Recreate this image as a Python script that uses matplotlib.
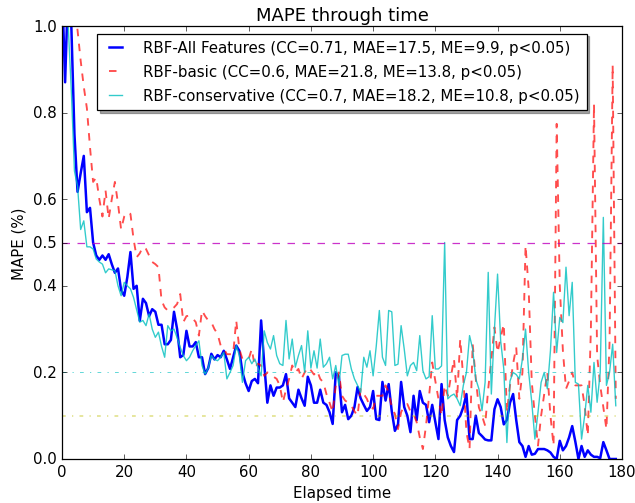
import numpy as np
import matplotlib
matplotlib.use("Agg")
import matplotlib.pyplot as plt

# MAPE per elapsed-time step
mape_all = [1.1, 0.87, 1.1, 1.0, 0.75, 0.617, 0.66, 0.70, 0.57, 0.58,
            0.50, 0.47, 0.46, 0.47, 0.46, 0.473, 0.45, 0.43, 0.44, 0.39,
            0.377, 0.42, 0.478, 0.393, 0.40, 0.319, 0.37, 0.36, 0.33, 0.346,
            0.34, 0.31, 0.31, 0.265, 0.265, 0.275, 0.34, 0.30, 0.235, 0.24,
            0.296, 0.26, 0.26, 0.27, 0.235, 0.235, 0.196, 0.21, 0.243, 0.23,
            0.24, 0.235, 0.25, 0.23, 0.208, 0.235, 0.262, 0.25, 0.20, 0.175,
            0.157, 0.18, 0.185, 0.175, 0.32, 0.22, 0.13, 0.17, 0.146, 0.165,
            0.165, 0.17, 0.196, 0.14, 0.13, 0.12, 0.16, 0.14, 0.123, 0.19,
            0.17, 0.13, 0.13, 0.16, 0.13, 0.125, 0.108, 0.081, 0.2, 0.19,
            0.108, 0.125, 0.092, 0.10, 0.12, 0.166, 0.14, 0.125, 0.111, 0.12,
            0.157, 0.092, 0.09, 0.178, 0.135, 0.173, 0.11, 0.065, 0.08, 0.178,
            0.12, 0.1, 0.062, 0.146, 0.09, 0.157, 0.13, 0.125, 0.085, 0.125,
            0.085, 0.046, 0.173, 0.09, 0.05, 0.03, 0.016, 0.09, 0.10, 0.12,
            0.15, 0.046, 0.046, 0.1, 0.06, 0.053, 0.045, 0.043, 0.043, 0.115,
            0.138, 0.12, 0.08, 0.09, 0.13, 0.15, 0.09, 0.039, 0.03, 0.005,
            0.03, 0.01, 0.012, 0.023, 0.023, 0.023, 0.02, 0.015, 0.005, 0.0,
            0.042, 0.02, 0.03, 0.05, 0.076, 0.04, 0.0, 0.03, 0.005, 0.02,
            0.01, 0.005, 0.005, 0.002, 0.039, 0.02, 0.0, 0.0, 0.0]

mape_basic = [0.99, 1.2, 1.2, 1.1, 1.05, 0.99, 0.92, 0.86, 0.81, 0.72,
              0.64, 0.65, 0.60, 0.56, 0.62, 0.555, 0.60, 0.64, 0.59, 0.53,
              0.56, 0.57, 0.566, 0.508, 0.466, 0.475, 0.49, 0.485, 0.47, 0.455,
              0.45, 0.443, 0.366, 0.35, 0.343, 0.345, 0.35, 0.358, 0.381, 0.316,
              0.33, 0.331, 0.325, 0.316, 0.285, 0.343, 0.33, 0.32, 0.316, 0.30,
              0.289, 0.262, 0.255, 0.242, 0.242, 0.242, 0.32, 0.254, 0.231, 0.231,
              0.231, 0.254, 0.212, 0.22, 0.216, 0.192, 0.20, 0.196, 0.19, 0.185,
              0.17, 0.131, 0.16, 0.185, 0.216, 0.20, 0.208, 0.185, 0.20, 0.212,
              0.205, 0.195, 0.204, 0.185, 0.177, 0.15, 0.13, 0.108, 0.17, 0.2,
              0.146, 0.135, 0.13, 0.123, 0.11, 0.1, 0.162, 0.15, 0.139, 0.12,
              0.116, 0.146, 0.146, 0.146, 0.17, 0.154, 0.12, 0.104, 0.069, 0.108,
              0.123, 0.127, 0.11, 0.104, 0.085, 0.05, 0.023, 0.077, 0.146, 0.223,
              0.18, 0.139, 0.1, 0.17, 0.146, 0.19, 0.231, 0.139, 0.277, 0.185,
              0.062, 0.023, 0.266, 0.185, 0.119, 0.1, 0.077, 0.162, 0.23, 0.304,
              0.246, 0.28, 0.312, 0.108, 0.17, 0.22, 0.258, 0.139, 0.2, 0.493,
              0.393, 0.177, 0.1, 0.031, 0.1, 0.15, 0.2, 0.10, 0.031, 0.774,
              0.40, 0.25, 0.162, 0.18, 0.2, 0.17, 0.17, 0.17, 0.123, 0.054,
              0.3, 0.82, 0.239, 0.17, 0.12, 0.069, 0.27, 0.91, 0.139]

mape_cons = [1.2, 1.1, 1.0, 0.85, 0.665, 0.63, 0.53, 0.55, 0.49, 0.49,
             0.485, 0.462, 0.455, 0.45, 0.43, 0.439, 0.437, 0.435, 0.40, 0.377,
             0.408, 0.40, 0.393, 0.373, 0.345, 0.316, 0.32, 0.308, 0.335, 0.30,
             0.281, 0.293, 0.26, 0.235, 0.308, 0.296, 0.30, 0.28, 0.258, 0.239,
             0.227, 0.235, 0.25, 0.262, 0.273, 0.216, 0.196, 0.21, 0.239, 0.23,
             0.227, 0.235, 0.246, 0.185, 0.20, 0.216, 0.262, 0.239, 0.177, 0.227,
             0.235, 0.22, 0.231, 0.21, 0.192, 0.296, 0.269, 0.254, 0.285, 0.239,
             0.22, 0.216, 0.32, 0.231, 0.277, 0.212, 0.239, 0.262, 0.20, 0.296,
             0.21, 0.25, 0.21, 0.277, 0.212, 0.22, 0.235, 0.185, 0.216, 0.17,
             0.239, 0.242, 0.242, 0.208, 0.185, 0.17, 0.154, 0.235, 0.212, 0.25,
             0.192, 0.26, 0.343, 0.235, 0.216, 0.343, 0.34, 0.216, 0.219, 0.308,
             0.254, 0.192, 0.216, 0.223, 0.204, 0.285, 0.204, 0.185, 0.19, 0.331,
             0.208, 0.208, 0.215, 0.50, 0.139, 0.146, 0.15, 0.139, 0.123, 0.17,
             0.20, 0.285, 0.254, 0.185, 0.162, 0.112, 0.177, 0.431, 0.15, 0.30,
             0.427, 0.273, 0.208, 0.038, 0.18, 0.20, 0.195, 0.185, 0.231, 0.30,
             0.20, 0.131, 0.046, 0.108, 0.177, 0.20, 0.162, 0.25, 0.385, 0.246,
             0.327, 0.315, 0.443, 0.331, 0.408, 0.177, 0.173, 0.046, 0.10, 0.17,
             0.108, 0.223, 0.131, 0.20, 0.558, 0.17, 0.20, 0.265, 0.123]

labels = ["RBF-All Features (CC=0.71, MAE=17.5, ME=9.9, p<0.05)",
          "RBF-basic (CC=0.6, MAE=21.8, ME=13.8, p<0.05)",
          "RBF-conservative (CC=0.7, MAE=18.2, ME=10.8, p<0.05)"]
yticks = [0.0, 0.2, 0.4, 0.5, 0.6, 0.8, 1.0]

plt.style.use('classic')
plt.rcParams['figure.facecolor'] = 'white'
plt.rcParams['savefig.facecolor'] = 'white'

fig = plt.figure(figsize=(635/90, 504/90), dpi=90)
ax = fig.add_axes([62/635, 44/504, 560/635, 433/504])

ax.plot(np.arange(len(mape_all)), mape_all, 'b-', lw=2, label=labels[0])
ax.plot(np.arange(len(mape_basic)), mape_basic, 'r--', lw=1.5, alpha=0.7, label=labels[1])
ax.plot(np.arange(len(mape_cons)), mape_cons, 'c-', lw=1.1, alpha=0.8, label=labels[2])

# reference levels
ax.axhline(0.5, color='m', ls='--', lw=1, alpha=0.8)
ax.axhline(0.2, color='c', ls='-.', lw=0.6, alpha=0.8)
ax.axhline(0.1, color='y', ls='-.', lw=1.2, alpha=0.5)

ax.set_xlim(0, 180)
ax.set_ylim(0, 1.0)
ax.set_xticks(np.arange(0, 181, 20))
ax.set_yticks(yticks)
ax.set_title("MAPE through time")
ax.set_xlabel("Elapsed time")
ax.set_ylabel("MAPE (%)")

ax.legend(loc='upper center', shadow=True, fancybox=False, numpoints=2, fontsize=12,
          handlelength=1.5, handletextpad=1.1, borderpad=0.45, labelspacing=0.6)

fig.savefig("out.png", dpi=90)
